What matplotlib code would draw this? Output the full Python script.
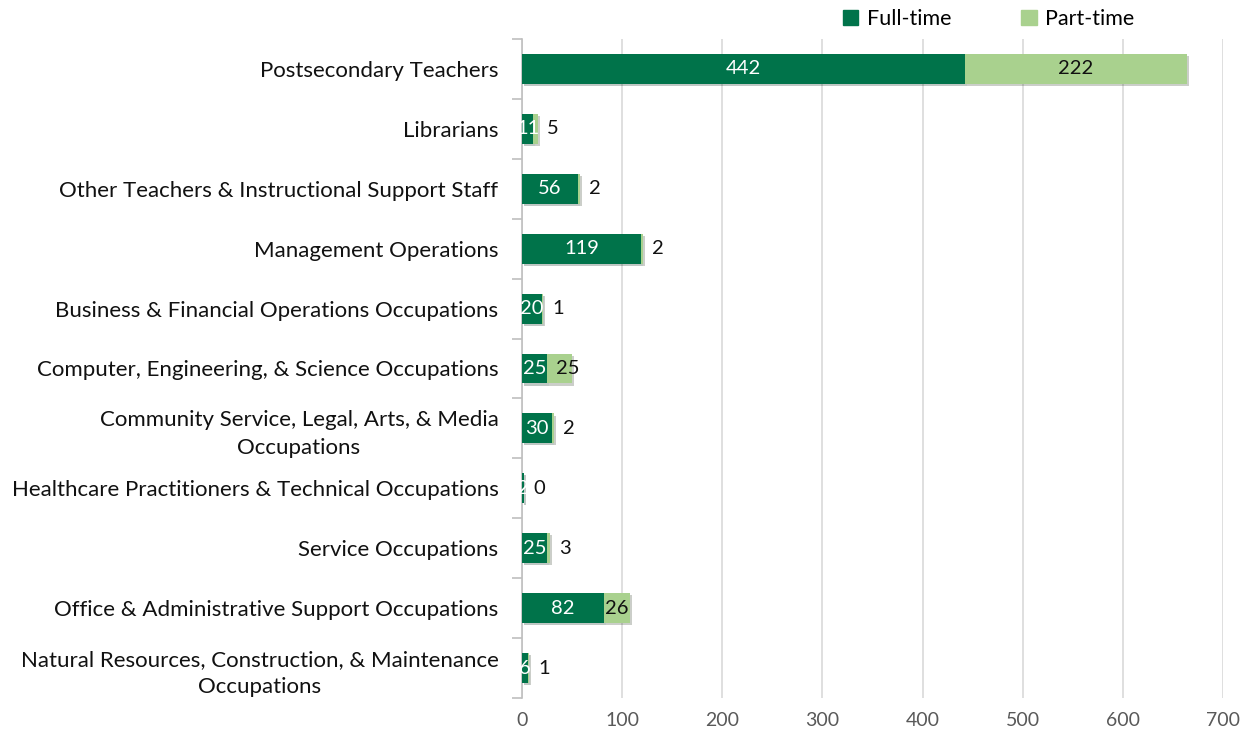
import matplotlib
matplotlib.use("Agg")
import matplotlib.pyplot as plt
import matplotlib.patheffects as pe
from matplotlib.patches import Patch
import numpy as np

plt.rcParams['font.family'] = ['Lato', 'DejaVu Sans']

categories = [
    "Postsecondary Teachers",
    "Librarians",
    "Other Teachers & Instructional Support Staff",
    "Management Operations",
    "Business & Financial Operations Occupations",
    "Computer, Engineering, & Science Occupations",
    "Community Service, Legal, Arts, & Media\nOccupations",
    "Healthcare Practitioners & Technical Occupations",
    "Service Occupations",
    "Office & Administrative Support Occupations",
    "Natural Resources, Construction, & Maintenance\nOccupations",
]
full_time = [442, 11, 56, 119, 20, 25, 30, 2, 25, 82, 6]
part_time = [222, 5, 2, 2, 1, 25, 2, 0, 3, 26, 1]

ft_color = "#00734A"
pt_color = "#A9D18E"

fig = plt.figure(figsize=(12.47, 7.34), dpi=100)
ax = fig.add_axes([522 / 1247, 1 - 698 / 734, (1223 - 522) / 1247, (698 - 39) / 734])

y = np.arange(len(categories))
shadow = [pe.SimplePatchShadow(offset=(1.5, -1.5), alpha=0.25), pe.Normal()]
b1 = ax.barh(y, full_time, height=0.5, color=ft_color, path_effects=shadow, zorder=3)
b2 = ax.barh(y, part_time, left=full_time, height=0.5, color=pt_color, path_effects=shadow, zorder=3)

for i in range(len(categories)):
    ax.text(full_time[i] / 2, y[i], str(full_time[i]), ha='center', va='center',
            color='white', fontsize=14.5, zorder=4)
    if part_time[i] >= 20:
        # the narrow 25 label sits a bit to the right of its segment
        nudge = 8 if part_time[i] <= 25 else 0
        ax.text(full_time[i] + part_time[i] / 2 + nudge, y[i],
                str(part_time[i]), ha='center', va='center', color='#111111',
                fontsize=14.5, zorder=4)
    else:
        ax.text(full_time[i] + part_time[i] + 9, y[i], str(part_time[i]),
                ha='left', va='center', color='#111111', fontsize=14.5, zorder=4)

ax.set_xlim(0, 700)
ax.set_ylim(len(categories) - 0.5, -0.5)
ax.set_xticks(range(0, 701, 100))
ax.set_yticks(y)
ax.set_yticklabels(categories, fontsize=16, color='#111111', linespacing=1.45)
ax.set_yticks(np.arange(-0.5, len(categories), 1), minor=True)
ax.tick_params(axis='y', which='major', length=0, pad=17)
ax.tick_params(axis='y', which='minor', length=7, color='#BFBFBF', width=1.2)
ax.tick_params(axis='x', length=0, labelsize=14, labelcolor='#595959', pad=10)
for lbl in ax.get_yticklabels():
    lbl.set_multialignment('center')

ax.grid(axis='x', color='#D9D9D9', linewidth=1.2, zorder=0)
for s in ['top', 'right', 'bottom']:
    ax.spines[s].set_visible(False)
ax.spines['left'].set_color('#BFBFBF')
ax.spines['left'].set_linewidth(1.2)

handles = [Patch(color=ft_color, label='Full-time'), Patch(color=pt_color, label='Part-time')]
fig.legend(handles=handles, loc='center', bbox_to_anchor=(0.793, 0.974), ncol=2,
           frameon=False, fontsize=15.5, handlelength=0.7, handleheight=0.7,
           handletextpad=0.4, columnspacing=3.25)

fig.savefig("out.png", dpi=100)
